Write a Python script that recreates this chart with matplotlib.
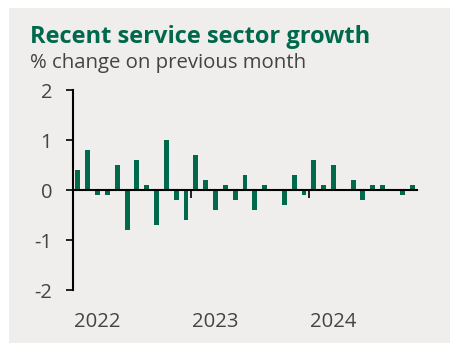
import matplotlib
matplotlib.use("Agg")
import matplotlib.pyplot as plt
from matplotlib.patches import Rectangle
from matplotlib.transforms import blended_transform_factory

plt.rcParams['font.family'] = ['Open Sans', 'DejaVu Sans']

# Monthly % change, Jan 2022 - Nov 2024
values = [0.4, 0.8, -0.1, -0.1, 0.5, -0.8, 0.6, 0.1, -0.7, 1.0, -0.2, -0.6,
          0.7, 0.2, -0.4, 0.1, -0.2, 0.3, -0.4, 0.1, 0.0, -0.3, 0.3, -0.1,
          0.6, 0.1, 0.5, 0.0, 0.2, -0.2, 0.1, 0.1, 0.0, -0.1, 0.1]
years = ["2022", "2023", "2024"]
year_start_idx = [0, 12, 24]
y_ticks = [-2, -1, 0, 1, 2]

title = "Recent service sector growth"
subtitle = "% change on previous month"

GREEN = "#00694C"
BG = "#EFEEEC"
TXT = "#444444"

W, H = 450, 343
fig = plt.figure(figsize=(W / 100, H / 100), dpi=100)
fig.patch.set_facecolor("white")
fig.add_artist(Rectangle((9 / W, 0), 1 - 9 / W, 1 - 8 / H, transform=fig.transFigure,
                         facecolor=BG, edgecolor="none", zorder=0))

ax = fig.add_axes([73 / W, (H - 290) / H, (417 - 73) / W, 200 / H])
ax.set_facecolor("none")

x = list(range(len(values)))
ax.bar(x, values, width=0.5, color=GREEN, zorder=2)

ax.set_xlim(-0.5, len(values) - 0.5)
ax.set_ylim(-2, 2)

for s in ["top", "right"]:
    ax.spines[s].set_visible(False)
ax.spines["bottom"].set_position(("data", 0))
ax.spines["bottom"].set_linewidth(1.5)
ax.spines["bottom"].set_zorder(3)
ax.spines["left"].set_linewidth(1.5)

ax.set_yticks(y_ticks)
ax.set_yticklabels([str(v) for v in y_ticks])
ax.tick_params(axis="y", direction="out", length=5, width=1.2, pad=10,
               labelsize=14.5, labelcolor=TXT, color="black")

tick_x = [i - 0.5 for i in year_start_idx]
ax.set_xticks(tick_x)
ax.set_xticklabels([""] * len(tick_x))
ax.tick_params(axis="x", direction="out", length=6, width=1.2, color="black")

tr = blended_transform_factory(ax.transData, ax.transAxes)
for tx, lab in zip(tick_x, years):
    ax.annotate(lab, xy=(tx, 0), xycoords=tr, xytext=(0.5, -23), textcoords="offset points",
                ha="left", va="center", fontsize=14.6, color=TXT)

fig.text(30 / W, 1 - 43 / H, title, fontsize=17, fontweight="bold", color=GREEN,
         ha="left", va="baseline")
fig.text(30 / W, 1 - 68 / H, subtitle, fontsize=14.7, color=TXT,
         ha="left", va="baseline")

fig.savefig("out.png", dpi=100)
